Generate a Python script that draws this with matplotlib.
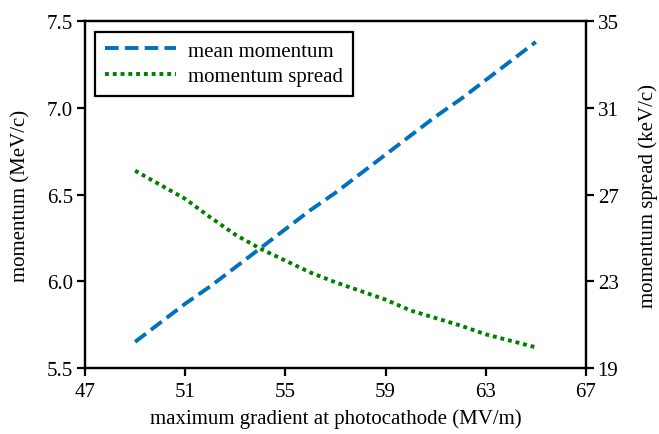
import numpy as np
import matplotlib
matplotlib.use("Agg")
import matplotlib.pyplot as plt

plt.rcParams['font.family'] = ['Liberation Serif', 'DejaVu Serif']

# gradient scan (MV/m)
gradient = [49, 50, 51, 52, 53, 54, 55, 56, 57, 58, 59, 60, 61, 62, 63, 64, 65]
# mean momentum (MeV/c)
mean_p = [5.65, 5.76, 5.87, 5.97, 6.08, 6.19, 6.30, 6.41, 6.51,
          6.62, 6.73, 6.84, 6.95, 7.05, 7.16, 7.27, 7.38]
# momentum spread (keV/c)
spread = [28.10, 27.45, 26.80, 25.95, 25.15, 24.50, 23.95, 23.40, 22.95,
          22.55, 22.15, 21.65, 21.30, 20.95, 20.55, 20.25, 19.95]

xticks = [47, 51, 55, 59, 63, 67]
yticks_left = [5.5, 6.0, 6.5, 7.0, 7.5]
yticks_right = [19, 23, 27, 31, 35]

fs = 15

fig = plt.figure(figsize=(6.59, 4.35), dpi=100)
ax = fig.add_axes([0.129, 0.152, 0.760, 0.797])
ax2 = ax.twinx()

l1, = ax.plot(gradient, mean_p, color='#0072BD', lw=2.8,
              linestyle=(0, (3.5, 1.6)), label='mean momentum')
l2, = ax2.plot(gradient, spread, color='#008000', lw=2.8,
               linestyle=(0, (1, 1)), label='momentum spread')

ax.set_xlim(47, 67)
ax.set_ylim(5.5, 7.5)
ax2.set_ylim(19, 35)
ax.set_xticks(xticks)
ax.set_yticks(yticks_left)
ax.set_yticklabels(['%.1f' % v for v in yticks_left])
ax2.set_yticks(yticks_right)

for a in (ax, ax2):
    for s in a.spines.values():
        s.set_linewidth(1.6)
    a.tick_params(direction='out', length=5.5, width=1.6, labelsize=fs, pad=3)
ax.tick_params(axis='x', pad=5)

ax.set_xlabel('maximum gradient at photocathode (MV/m)', fontsize=fs, labelpad=5)
ax.set_ylabel('momentum (MeV/c)', fontsize=fs, labelpad=12)
ax2.set_ylabel('momentum spread (keV/c)', fontsize=fs, labelpad=14)

leg = ax.legend(handles=[l1, l2], loc='upper left', fontsize=fs,
                fancybox=False, framealpha=1, edgecolor='black',
                handlelength=3.4, handletextpad=0.6, borderpad=0.45,
                borderaxespad=0.5, labelspacing=0.3)
leg.get_frame().set_linewidth(1.6)

fig.savefig('out.png', dpi=100)
